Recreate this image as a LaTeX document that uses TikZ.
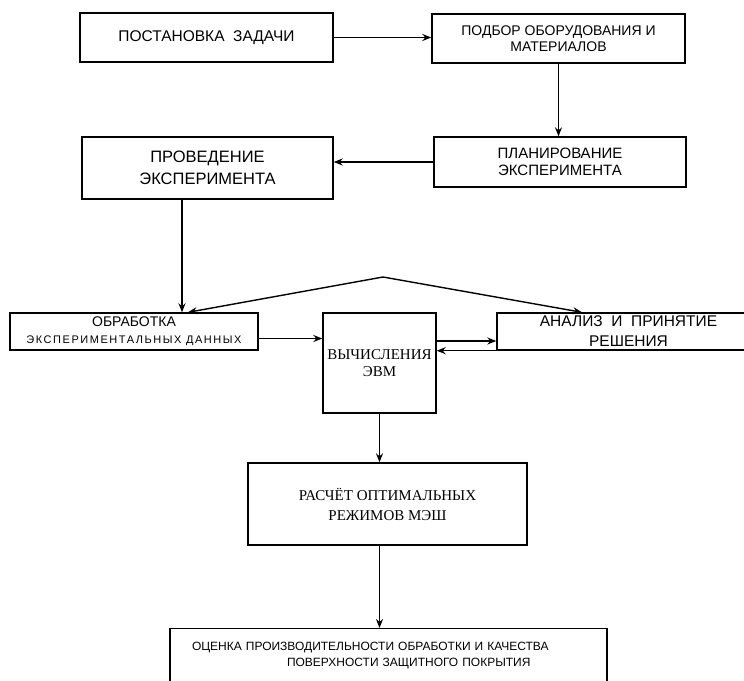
\documentclass[tikz,border=0pt]{standalone}
\usepackage{fontspec}
\setmainfont{Liberation Serif}
\setsansfont{Liberation Sans}
\newfontfamily\widesans[LetterSpace=14]{Liberation Sans}
\usepackage{tikz}
\usetikzlibrary{arrows.meta, positioning, calc}

\begin{document}
\begin{tikzpicture}[x=1pt, y=-1pt,
    block/.style={draw, line width=1.4pt, inner sep=0pt, align=center},
    arrow/.style={-{Stealth[length=9pt, width=7pt, inset=3pt]}, line width=1.4pt},
    dblarrow/.style={{Stealth[length=9pt, width=7pt, inset=3pt]}-{Stealth[length=9pt, width=7pt, inset=3pt]}, line width=1.4pt}
]
    \useasboundingbox (0,0) rectangle (744,680);

    % Top row
    \node[block, minimum width=253pt, minimum height=49pt, font=\sffamily\fontsize{15.5}{18}\selectfont] (zadacha) at (206.5,37.5) {ПОСТАНОВКА\ \ ЗАДАЧИ};
    \node[block, minimum width=253pt, minimum height=49pt, font=\sffamily\fontsize{14}{16}\selectfont] (podbor) at (558.5,38.5) {ПОДБОР ОБОРУДОВАНИЯ И\\МАТЕРИАЛОВ};

    % Second row
    \node[block, minimum width=252pt, minimum height=50pt, font=\sffamily\fontsize{15}{17}\selectfont] (planir) at (560,162) {ПЛАНИРОВАНИЕ\\ЭКСПЕРИМЕНТА};
    \node[block, minimum width=251pt, minimum height=62pt, font=\sffamily\fontsize{16.5}{22}\selectfont] (proved) at (207.5,168) {ПРОВЕДЕНИЕ\\ЭКСПЕРИМЕНТА};

    % Middle row
    \node[block, minimum width=248pt, minimum height=37pt, font=\sffamily\fontsize{14}{17}\selectfont] (obrab) at (134,331.5) {ОБРАБОТКА\\{\widesans\fontsize{11}{17}\selectfont ЭКСПЕРИМЕНТАЛЬНЫХ ДАННЫХ}};
    \node[block, minimum width=113pt, minimum height=100pt, font=\rmfamily\fontsize{15}{17}\selectfont] (vych) at (379.5,363) {ВЫЧИСЛЕНИЯ\\ЭВМ};
    \node[block, minimum width=263pt, minimum height=37pt, font=\sffamily\fontsize{15.5}{20}\selectfont] (analiz) at (628.5,331.5) {АНАЛИЗ\ \ И\ \ ПРИНЯТИЕ\\РЕШЕНИЯ};

    % Bottom
    \node[block, minimum width=279pt, minimum height=82pt, font=\rmfamily\fontsize{15}{20}\selectfont] (raschet) at (387.5,504) {РАСЧЁТ ОПТИМАЛЬНЫХ\\РЕЖИМОВ МЭШ};
    \node[block, anchor=north, text width=393pt, inner xsep=22pt, inner ysep=13pt, text depth=60pt, align=left, font=\sffamily\fontsize{12}{16}\selectfont] (ocenka) at (388.5,628) {ОЦЕНКА ПРОИЗВОДИТЕЛЬНОСТИ ОБРАБОТКИ И КАЧЕСТВА\\\hspace*{95pt}ПОВЕРХНОСТИ ЗАЩИТНОГО ПОКРЫТИЯ};

    % Connectors
    \draw[arrow] (zadacha.east) -- (zadacha.east -| podbor.west);
    \draw[arrow] (podbor.south) -- (podbor.south |- planir.north);
    \draw[arrow] (planir.west) -- (planir.west -| proved.east);

    \coordinate (down) at ([xshift=-25.5pt]proved.south);
    \draw[arrow] (down) -- (down |- obrab.north);

    \coordinate (apex) at (383,277);
    \draw[dblarrow] ([xshift=54pt]obrab.north) -- (apex) -- ([xshift=-46.5pt]analiz.north);

    \coordinate (ob) at ([yshift=-7pt]obrab.east);
    \draw[arrow] (ob) -- (ob -| vych.west);
    \coordinate (toan) at ([yshift=-9.5pt]analiz.west);
    \draw[arrow] (vych.east |- toan) -- (toan);
    \draw[arrow] (analiz.south west) -- (analiz.south west -| vych.east);

    \draw[arrow] (vych.south) -- (vych.south |- raschet.north);
    \draw[arrow, line width=1.9pt] (raschet.south -| vych.south) -- (vych.south |- ocenka.north);
\end{tikzpicture}
\end{document}
